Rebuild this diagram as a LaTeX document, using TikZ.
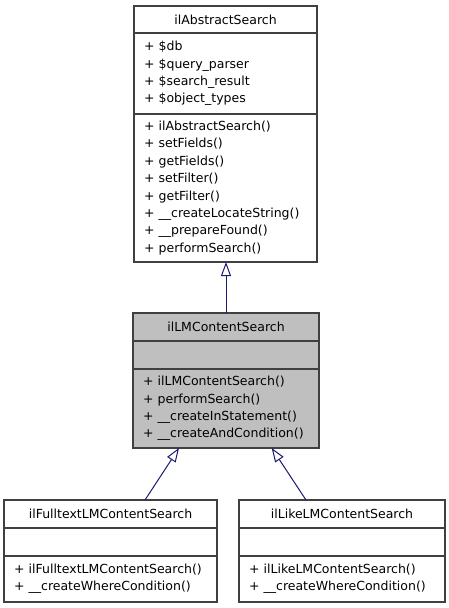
\documentclass[tikz,border=0pt]{standalone}
\usepackage{fontspec}
\setmainfont{DejaVu Sans}
\usetikzlibrary{positioning,calc,arrows.meta}
\definecolor{edgeblue}{HTML}{191970}
\definecolor{boxgray}{HTML}{BFBFBF}
\definecolor{linegray}{HTML}{404040}
\tikzset{sec/.style={draw=linegray,line width=1.2pt,fill=white,outer sep=0pt,inner xsep=10pt,inner ysep=2pt,font=\fontsize{12.5}{17.4}\selectfont},
  mem/.style={sec,align=left},
  inh/.style={draw=edgeblue,line width=1pt,-{Triangle[open,width=10pt,length=14pt]}}}

\begin{document}
\begin{tikzpicture}[x=1pt,y=-1pt]
          \useasboundingbox (0,0) rectangle (448,608);

          % base class
          \node (abs-t) [sec,anchor=north west,minimum width=183pt,minimum height=27pt] at (134,6) {ilAbstractSearch};
          \node (abs-a) [mem,below=0pt of abs-t,minimum width=183pt,minimum height=81pt,text width=163pt]
            {+ \$db\\+ \$query\_parser\\+ \$search\_result\\+ \$object\_types};
          \node (abs-m) [mem,below=0pt of abs-a,minimum width=183pt,minimum height=148pt,text width=163pt]
            {+ ilAbstractSearch()\\+ setFields()\\+ getFields()\\+ setFilter()\\+ getFilter()\\+ \_\_createLocateString()\\+ \_\_prepareFound()\\+ performSearch()};

          % the class itself
          \node (lm-t) [sec,fill=boxgray,anchor=north west,minimum width=186pt,minimum height=28pt] at (133,313) {ilLMContentSearch};
          \node (lm-a) [sec,fill=boxgray,below=0pt of lm-t,minimum width=186pt,minimum height=28pt] {};
          \node (lm-m) [mem,fill=boxgray,below=0pt of lm-a,minimum width=186pt,minimum height=79pt,text width=166pt]
            {+ ilLMContentSearch()\\+ performSearch()\\+ \_\_createInStatement()\\+ \_\_createAndCondition()};

          % derived classes
          \node (full-t) [sec,anchor=north west,minimum width=213pt,minimum height=28pt] at (4,500) {ilFulltextLMContentSearch};
          \node (full-a) [sec,below=0pt of full-t,minimum width=213pt,minimum height=28pt] {};
          \node (full-m) [mem,below=0pt of full-a,minimum width=213pt,minimum height=46pt,text width=193pt]
            {+ ilFulltextLMContentSearch()\\+ \_\_createWhereCondition()};

          \node (like-t) [sec,anchor=north west,minimum width=206pt,minimum height=28pt] at (239,500) {ilLikeLMContentSearch};
          \node (like-a) [sec,below=0pt of like-t,minimum width=206pt,minimum height=28pt] {};
          \node (like-m) [mem,below=0pt of like-a,minimum width=206pt,minimum height=46pt,text width=186pt]
            {+ ilLikeLMContentSearch()\\+ \_\_createWhereCondition()};

          % arrows
          \draw[inh] (lm-t.north) -- (lm-t.north |- abs-m.south);
          \draw[inh] ([xshift=34.5pt]full-t.north) -- ([xshift=-47pt]lm-m.south);
          \draw[inh] ([xshift=-36pt]like-t.north) -- ([xshift=45.7pt]lm-m.south);
\end{tikzpicture}
\end{document}
